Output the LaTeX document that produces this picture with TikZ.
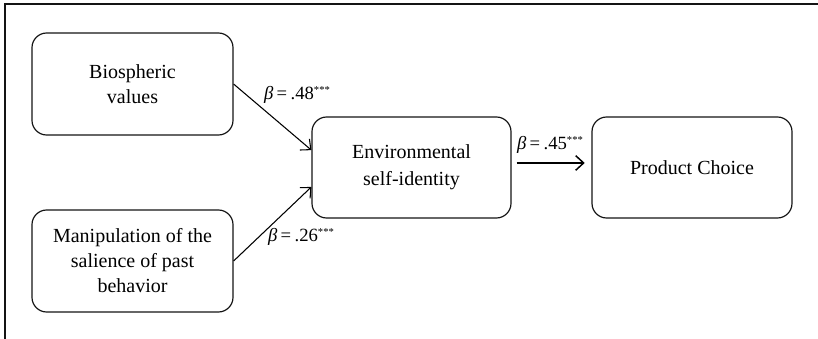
\documentclass[tikz,border=0pt]{standalone}
\usepackage{fontspec}
\setmainfont{Liberation Serif}
\usepackage{tikz}
\usetikzlibrary{arrows.meta, positioning, calc}
\definecolor{boxborder}{RGB}{20, 20, 20}
\tikzstyle{construct} = [rectangle, rounded corners=11pt, minimum width=150.75pt, minimum height=76.5pt,
                         text centered, align=center, draw=boxborder, line width=0.9pt,
                         font=\fontsize{15}{18.75}\selectfont]
\tikzstyle{arrow} = [-{Straight Barb[length=6pt, width=11pt]}, line width=0.8pt]
\tikzstyle{coef} = [font=\fontsize{14}{16}\selectfont, inner sep=0pt]
\newcommand{\coefb}[1]{\textit{β}\hspace{0.18em}=\hspace{0.18em}.#1\raisebox{0.75ex}{\fontsize{8}{8}\selectfont ***}}

\begin{document}
\begin{tikzpicture}[x=0.75pt, y=-0.75pt]
    \useasboundingbox (0,0) rectangle (818,339);
    % frame (top and left edge only)
    \coordinate (frameBL) at (5,339);
    \coordinate (frameTL) at (5,4);
    \coordinate (frameTR) at (818,4);
    \draw[line width=1.2pt, draw=boxborder] (frameBL) -- (frameTL) -- (frameTR);

    \node[construct] (bio) at (132.5,84) {Biospheric\\ values};
    \node[construct] (manip) at (132.5,261) {Manipulation of the\\ salience of past\\ behavior};
    \node[construct, minimum width=149.25pt, minimum height=75.75pt, font=\fontsize{15}{20}\selectfont]
        (env) at (411.5,167.5) {Environmental\\ self-identity};
    \node[construct, minimum width=150pt, minimum height=75.75pt] (prod) at (692,167.5) {Product Choice};

    \draw[arrow] (bio.east) -- ($(env.north west)!0.33!(env.south west)$);
    \draw[arrow] (manip.east) -- ($(env.north west)!0.69!(env.south west)$);
    \draw[arrow, line width=1.1pt, shorten <=3.75pt, shorten >=5pt] ([yshift=3.4pt]env.east) -- ([yshift=3.4pt]prod.west);

    \node[coef] (c1) at (297,95) {\coefb{48}};
    \node[coef] (c2) at (301,237) {\coefb{26}};
    \node[coef] (c3) at (550,145) {\coefb{45}};
\end{tikzpicture}
\end{document}
